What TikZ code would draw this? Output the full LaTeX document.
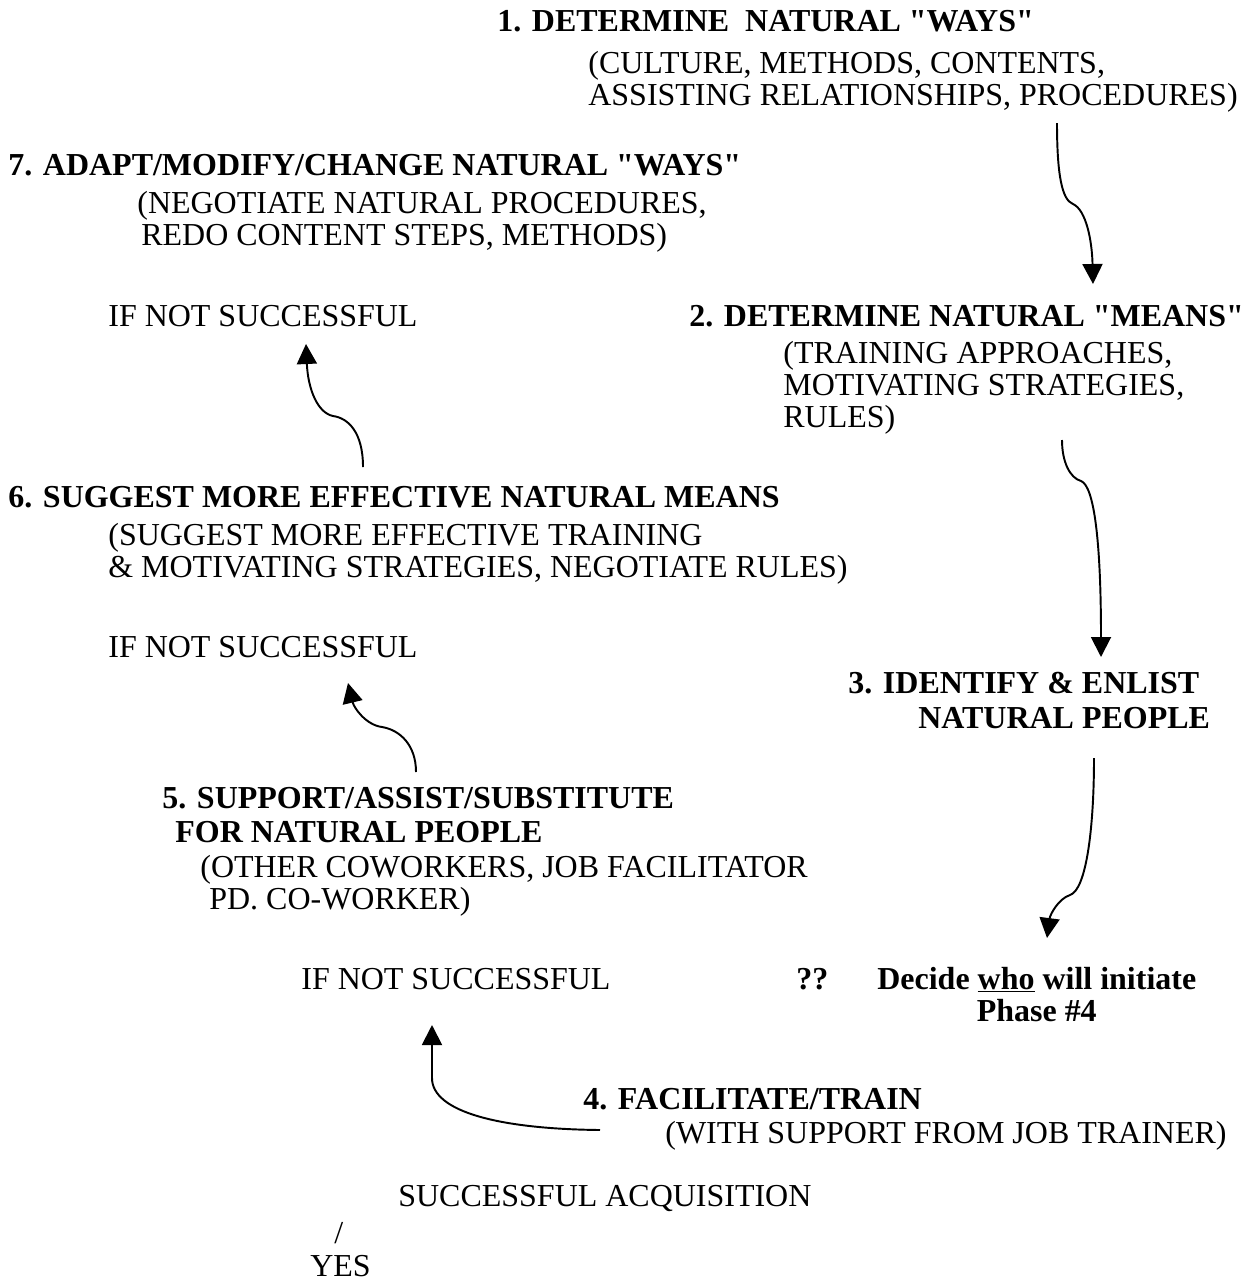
\documentclass[tikz,border=0pt]{standalone}
\usepackage{fontspec}
\setmainfont{Liberation Serif}
\usetikzlibrary{arrows.meta}

\begin{document}
\begin{tikzpicture}[x=0.02cm,y=-0.02cm,
    txt/.style={inner sep=0pt,anchor=base west,align=left,font=\fontsize{18.2pt}{18.2pt}\selectfont},
    head/.style={txt,font=\fontsize{18.2pt}{18.2pt}\selectfont\bfseries},
    flow/.style={line width=1.1pt,-{Triangle[length=0.4cm,width=0.4cm]}}]
  \useasboundingbox (0,0) rectangle (1258,1282);

  % phases (a node sits on the baseline of its last line)
  \node[head] (t1) at (497,31) {1. DETERMINE\ \ NATURAL \textquotedbl WAYS\textquotedbl};
  \node[txt] (d1) at (588,105) {(CULTURE, METHODS, CONTENTS,\\ASSISTING RELATIONSHIPS, PROCEDURES)};

  \node[head] (t2) at (689,326) {2. DETERMINE NATURAL \textquotedbl MEANS\textquotedbl};
  \node[txt] (d2) at (783,427) {(TRAINING APPROACHES,\\MOTIVATING STRATEGIES,\\RULES)};

  \node[head] (t3) at (848,728) {3. IDENTIFY \& ENLIST\\[0.06cm]\hspace{1.4cm}NATURAL PEOPLE};

  \node[head] (qq) at (796,989) {??};
  \node[head,align=center] (who) at (877,1021) {Decide \underline{who} will initiate\\Phase \#4};

  \node[head] (t4) at (583,1109) {4. FACILITATE/TRAIN};
  \node[txt] (d4) at (665,1143) {(WITH SUPPORT FROM JOB TRAINER)};

  \node[head] (t5) at (162,842) {5. SUPPORT/ASSIST/SUBSTITUTE\\[0.04cm]\hspace{0.26cm}FOR NATURAL PEOPLE};
  \node[txt] (d5) at (200,909) {(OTHER COWORKERS, JOB FACILITATOR\\\hspace{0.18cm}PD. CO-WORKER)};
  \node[txt] (f5) at (301,989) {IF NOT SUCCESSFUL};

  \node[head] (t6) at (8,507) {6. SUGGEST MORE EFFECTIVE NATURAL MEANS};
  \node[txt] (d6) at (108,577) {(SUGGEST MORE EFFECTIVE TRAINING\\\& MOTIVATING STRATEGIES, NEGOTIATE RULES)};
  \node[txt] (f6) at (108,657) {IF NOT SUCCESSFUL};

  \node[head] (t7) at (8,175) {7. ADAPT/MODIFY/CHANGE NATURAL \textquotedbl WAYS\textquotedbl};
  \node[txt] (d7) at (137,245) {(NEGOTIATE NATURAL PROCEDURES,\\\hspace{0.08cm}REDO CONTENT STEPS, METHODS)};
  \node[txt] (f7) at (108,326) {IF NOT SUCCESSFUL};

  \node[txt] (ok) at (398,1206) {SUCCESSFUL ACQUISITION};
  \node[txt] (sl) at (334,1243) {/};
  \node[txt] (yes) at (310,1276) {YES};

  % arrows
  \coordinate (a1) at (1057,123);
  \coordinate (k1) at (1073,204);
  \coordinate (e1) at (1093,284);
  \draw[flow] (a1) .. controls (1057,175) and (1062,200) .. (k1) .. controls (1086,210) and (1092,240) .. (e1);

  \coordinate (a2) at (1062,440);
  \coordinate (k2) at (1081,481);
  \coordinate (e2) at (1101,657);
  \draw[flow] (a2) .. controls (1062,462) and (1070,478) .. (k2) .. controls (1094,486) and (1101,540) .. (e2);

  \coordinate (a3) at (1094,758);
  \coordinate (k3) at (1070,895);
  \coordinate (e3) at (1047,938);
  \draw[flow] (a3) .. controls (1094,830) and (1086,890) .. (k3) .. controls (1058,899) and (1050,915) .. (e3);

  \coordinate (a4) at (600,1130);
  \coordinate (k4) at (432,1078);
  \coordinate (e4) at (432,1025);
  \draw[flow] (a4) .. controls (500,1129) and (432,1112) .. (k4) -- (e4);

  \coordinate (a5) at (416,772);
  \coordinate (k5) at (382,727);
  \coordinate (e5) at (348,683);
  \draw[flow] (a5) .. controls (416,745) and (400,730) .. (k5) .. controls (366,725) and (354,708) .. (e5);

  \coordinate (a6) at (363,467);
  \coordinate (k6) at (333,416);
  \coordinate (e6) at (306,344);
  \draw[flow] (a6) .. controls (363,432) and (348,418) .. (k6) .. controls (318,413) and (308,390) .. (e6);
\end{tikzpicture}
\end{document}
